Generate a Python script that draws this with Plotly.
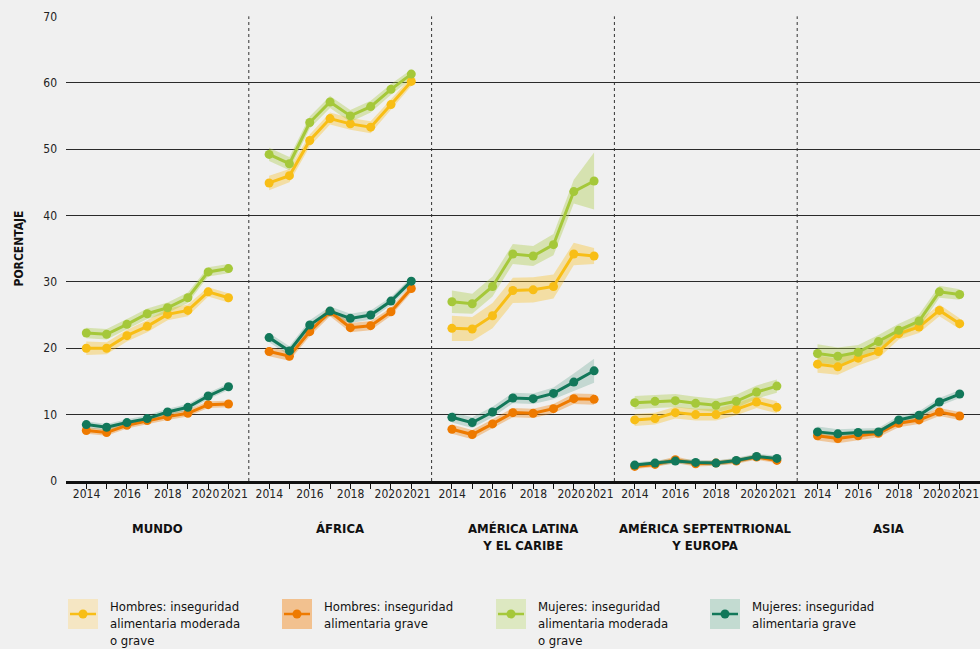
import plotly.graph_objects as go
from plotly.subplots import make_subplots

YEARS = [2014, 2015, 2016, 2017, 2018, 2019, 2020, 2021]
LABEL_YEARS = ["2014", "2016", "2018", "2020", "2021"]
REGIONS = ["MUNDO", "ÁFRICA", "AMÉRICA LATINA<br>Y EL CARIBE", "AMÉRICA SEPTENTRIONAL<br>Y EUROPA", "ASIA"]

# Hombres: inseguridad alimentaria moderada o grave
H_MOD = [
    [20.0, 20.0, 21.9, 23.3, 25.1, 25.7, 28.5, 27.6],
    [44.9, 46.0, 51.3, 54.6, 53.8, 53.3, 56.7, 60.2],
    [23.0, 22.9, 24.9, 28.7, 28.8, 29.3, 34.2, 33.9],
    [9.2, 9.4, 10.3, 10.0, 10.0, 10.8, 11.9, 11.1],
    [17.6, 17.2, 18.5, 19.5, 22.2, 23.2, 25.7, 23.7],
]
H_MOD_ERR = [
    [1.0, 0.9, 0.9, 0.9, 0.9, 0.9, 0.7, 0.7],
    [1.1, 1.0, 0.9, 0.9, 0.9, 0.9, 0.8, 0.7],
    [1.9, 1.8, 1.9, 1.9, 1.9, 1.8, 1.7, 1.2],
    [0.9, 0.9, 0.9, 0.9, 0.9, 0.9, 0.9, 0.9],
    [1.3, 1.2, 1.1, 1.0, 0.9, 0.9, 0.9, 0.8],
]
# Hombres: inseguridad alimentaria grave
H_GRAVE = [
    [7.6, 7.3, 8.4, 9.1, 9.7, 10.2, 11.5, 11.6],
    [19.5, 18.8, 22.5, 25.5, 23.1, 23.4, 25.5, 29.0],
    [7.8, 7.0, 8.6, 10.3, 10.2, 10.9, 12.4, 12.3],
    [2.2, 2.5, 3.2, 2.6, 2.7, 3.0, 3.6, 3.1],
    [6.8, 6.4, 6.8, 7.2, 8.7, 9.2, 10.4, 9.8],
]
H_GRAVE_ERR = [
    [0.5, 0.5, 0.5, 0.5, 0.5, 0.5, 0.5, 0.5],
    [0.7, 0.7, 0.7, 0.7, 0.7, 0.7, 0.6, 0.6],
    [0.7, 0.7, 0.7, 0.7, 0.7, 0.7, 0.8, 0.8],
    [0.4, 0.4, 0.5, 0.4, 0.4, 0.4, 0.4, 0.4],
    [0.7, 0.7, 0.7, 0.6, 0.6, 0.6, 0.6, 0.6],
]
# Mujeres: inseguridad alimentaria moderada o grave
M_MOD = [
    [22.3, 22.1, 23.6, 25.2, 26.1, 27.6, 31.5, 32.0],
    [49.2, 47.8, 54.0, 57.1, 55.0, 56.4, 59.0, 61.3],
    [27.0, 26.7, 29.3, 34.2, 33.9, 35.6, 43.6, 45.2],
    [11.8, 12.0, 12.1, 11.7, 11.4, 12.0, 13.4, 14.3],
    [19.2, 18.8, 19.4, 21.0, 22.7, 24.1, 28.5, 28.1],
]
M_MOD_ERR = [
    [0.8, 0.8, 0.8, 0.8, 0.8, 0.8, 0.7, 0.7],
    [1.0, 1.0, 0.9, 0.9, 0.9, 0.9, 0.8, 0.7],
    [1.7, 1.5, 1.5, 1.5, 1.5, 1.6, 1.8, 4.3],
    [1.0, 1.0, 1.0, 1.0, 1.0, 1.0, 1.0, 1.0],
    [1.4, 1.3, 1.1, 1.0, 1.0, 1.0, 0.9, 0.8],
]
# Mujeres: inseguridad alimentaria grave
M_GRAVE = [
    [8.5, 8.1, 8.8, 9.4, 10.4, 11.1, 12.8, 14.2],
    [21.6, 19.6, 23.5, 25.6, 24.5, 25.0, 27.1, 30.1],
    [9.6, 8.8, 10.4, 12.5, 12.4, 13.2, 14.9, 16.6],
    [2.4, 2.7, 3.0, 2.8, 2.7, 3.1, 3.7, 3.4],
    [7.4, 7.1, 7.3, 7.4, 9.2, 9.9, 11.9, 13.1],
]
M_GRAVE_ERR = [
    [0.5, 0.5, 0.5, 0.5, 0.5, 0.5, 0.5, 0.5],
    [0.7, 0.7, 0.7, 0.7, 0.7, 0.7, 0.6, 0.6],
    [0.8, 0.8, 0.8, 0.8, 0.8, 0.9, 1.3, 1.8],
    [0.4, 0.4, 0.4, 0.4, 0.4, 0.4, 0.4, 0.4],
    [0.8, 0.7, 0.6, 0.6, 0.6, 0.6, 0.6, 0.6],
]

SERIES = [
    ("Hombres: inseguridad<br>alimentaria moderada<br>o grave", H_MOD, H_MOD_ERR,
     "#F8BE16", "rgba(248,190,22,0.35)", "#F5E6C3"),
    ("Mujeres: inseguridad<br>alimentaria moderada<br>o grave", M_MOD, M_MOD_ERR,
     "#A5C83A", "rgba(165,200,58,0.35)", "#DDE8C1"),
    ("Hombres: inseguridad<br>alimentaria grave", H_GRAVE, H_GRAVE_ERR,
     "#EE7A00", "rgba(238,122,0,0.35)", "#F2C18F"),
    ("Mujeres: inseguridad<br>alimentaria grave", M_GRAVE, M_GRAVE_ERR,
     "#12785A", "rgba(18,120,90,0.2)", "#C3DBD1"),
]
LEGEND_ORDER = [0, 2, 1, 3]

FONT = "Liberation Sans Narrow, DejaVu Sans Condensed, Roboto, sans-serif"

# label positions: the last two labels are nudged apart so they do not collide
LABEL_NUDGE = {"2020": -0.14, "2021": 0.27}
LABEL_POS = [int(y) + LABEL_NUDGE.get(y, 0.0) for y in LABEL_YEARS]

fig = make_subplots(rows=1, cols=5, shared_yaxes=True, horizontal_spacing=0)

for r in range(5):
    col = r + 1
    # bands
    for name, vals, errs, lc, bc, sc in SERIES:
        v = vals[r]
        e = errs[r]
        hi = [a + b for a, b in zip(v, e)]
        lo = [a - b for a, b in zip(v, e)]
        fig.add_trace(go.Scatter(
            x=YEARS + YEARS[::-1], y=hi + lo[::-1], fill="toself",
            fillcolor=bc, line=dict(width=0), mode="lines",
            hoverinfo="skip", showlegend=False), row=1, col=col)
    # lines
    for name, vals, errs, lc, bc, sc in SERIES:
        fig.add_trace(go.Scatter(
            x=YEARS, y=vals[r], mode="lines+markers",
            line=dict(color=lc, width=3),
            marker=dict(color=lc, size=9),
            name=name.replace("<br>", " "), showlegend=False), row=1, col=col)

for i in range(1, 6):
    fig.update_xaxes(
        range=[2013, 2022], tickmode="array",
        tickvals=[p + 0.01 for p in LABEL_POS], ticktext=LABEL_YEARS, tickangle=0,
        ticks="", ticklen=0,
        minor=dict(tickmode="array", tickvals=YEARS, ticks="outside",
                   ticklen=5, tickwidth=1, tickcolor="#111", showgrid=False),
        showline=True, linewidth=2.5, linecolor="#111", showgrid=False,
        zeroline=False, tickfont=dict(size=12, color="#222", family=FONT),
        fixedrange=True, row=1, col=i)
    fig.update_yaxes(
        range=[0, 70.05], dtick=10, showgrid=True, gridcolor="#2a2a2a",
        gridwidth=1.2, zeroline=False, ticks="", fixedrange=True,
        row=1, col=i)
fig.update_yaxes(tickfont=dict(size=12, color="#222", family=FONT),
                 ticklabelstandoff=8, row=1, col=1)

# panel dividers
for k in range(1, 5):
    fig.add_shape(type="line", xref="paper", yref="y", x0=k / 5, x1=k / 5,
                  y0=0, y1=70, line=dict(color="#333", width=1, dash="dot"),
                  layer="below")

W, H = 980, 649
ML, MR, MT, MB = 66, 0, 16, 168
PW, PH = W - ML - MR, H - MT - MB


def px(xp):
    return (xp - ML) / PW


def py(yp):
    return (H - MB - yp) / PH


# panel titles
for r, title in enumerate(REGIONS):
    fig.add_annotation(text="<b>" + title + "</b>", xref="paper", yref="paper",
                       x=(r + 0.5) / 5, y=py(519), xanchor="center", yanchor="top",
                       showarrow=False, align="center",
                       font=dict(size=13, color="#111", family=FONT))

# y-axis title
fig.add_annotation(text="<b>PORCENTAJE</b>", xref="paper", yref="paper",
                   x=px(18), y=0.5, textangle=-90, showarrow=False,
                   xanchor="center", yanchor="middle",
                   font=dict(size=12, color="#111", family=FONT))

# custom legend
LEG_X = [68, 282, 496, 710]
for slot, si in enumerate(LEGEND_ORDER):
    name, vals, errs, lc, bc, sc = SERIES[si]
    x0 = LEG_X[slot]
    fig.add_shape(type="rect", xref="paper", yref="paper",
                  x0=px(x0), x1=px(x0 + 30), y0=py(629), y1=py(599),
                  fillcolor=sc, line=dict(width=0))
    fig.add_shape(type="line", xref="paper", yref="paper",
                  x0=px(x0 + 2), x1=px(x0 + 28), y0=py(614), y1=py(614),
                  line=dict(color=lc, width=2.5))
    fig.add_shape(type="circle", xref="paper", yref="paper",
                  xsizemode="pixel", ysizemode="pixel",
                  xanchor=px(x0 + 15), yanchor=py(614),
                  x0=-4.5, x1=4.5, y0=-4.5, y1=4.5,
                  fillcolor=lc, line=dict(width=0))
    fig.add_annotation(text=name, xref="paper", yref="paper",
                       x=px(x0 + 40), y=py(597), xanchor="left", yanchor="top",
                       align="left", showarrow=False,
                       font=dict(size=13, color="#111", family=FONT))

fig.update_layout(
    width=W, height=H,
    margin=dict(l=ML, r=MR, t=MT, b=MB),
    paper_bgcolor="#F0F0F0", plot_bgcolor="#F0F0F0",
    showlegend=False,
    font=dict(family=FONT, color="#111"),
)

fig.write_html("out.html")
